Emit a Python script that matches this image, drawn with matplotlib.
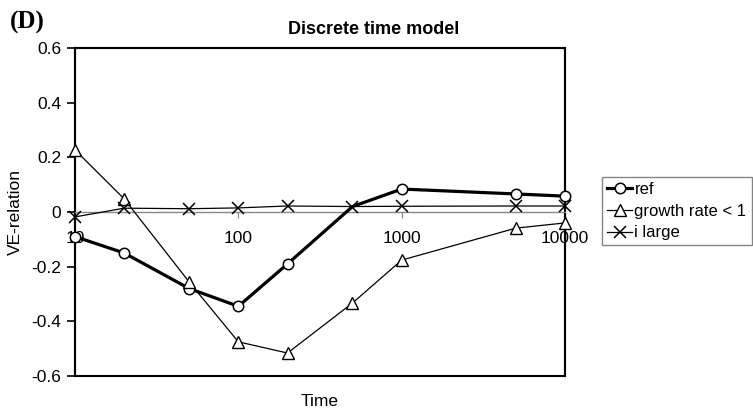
import matplotlib
matplotlib.use("Agg")
import matplotlib.pyplot as plt
from matplotlib.patches import Rectangle
from matplotlib.ticker import FixedLocator, NullLocator

time = [10, 20, 50, 100, 200, 500, 1000, 5000, 10000]
ref = [-0.09, -0.15, -0.28, -0.345, -0.19, 0.02, 0.084, 0.066, 0.058]
growth = [0.227, 0.048, -0.256, -0.475, -0.516, -0.333, -0.176, -0.059, -0.04]
ilarge = [-0.018, 0.014, 0.012, 0.015, 0.022, 0.02, 0.021, 0.022, 0.022]
xticks = [10, 100, 1000, 10000]
xticklabels = ["10", "100", "1000", "10000"]
yticks = [-0.6, -0.4, -0.2, 0, 0.2, 0.4, 0.6]
yticklabels = ["-0.6", "-0.4", "-0.2", "0", "0.2", "0.4", "0.6"]

plt.rcParams['font.family'] = ['Liberation Sans', 'DejaVu Sans']

fig = plt.figure(figsize=(7.53, 4.13), dpi=100)
ax = fig.add_axes([75/753, 1-376/413, 490/753, 328/413])

ax.plot(time, ref, color='black', lw=2.3, marker='o', ms=7.5, mfc='white', mec='black', mew=1.1,
        markevery=[0, 1, 2, 3, 4, 6, 7, 8], label='ref', zorder=3, clip_on=False)
ax.plot(time, growth, color='black', lw=0.9, marker='^', ms=8, mfc='white', mec='black', mew=1.0,
        label='growth rate < 1', zorder=4, clip_on=False)
ax.plot(time, ilarge, color='black', lw=0.9, marker='x', ms=8, mew=1.1,
        label='i large', zorder=5, clip_on=False)

ax.set_xscale('log')
ax.set_xlim(10, 10000)
ax.set_ylim(-0.6, 0.6)

for s in ['top', 'right', 'left']:
    ax.spines[s].set_color('black')
    ax.spines[s].set_linewidth(1.5)
ax.spines['bottom'].set_position(('data', 0))
ax.spines['bottom'].set_color('#888888')
ax.spines['bottom'].set_linewidth(1.0)
ax.add_patch(Rectangle((0, 0), 1, 1, transform=ax.transAxes, fill=False,
                       lw=1.5, ec='black', clip_on=False, zorder=2))

ax.xaxis.set_major_locator(FixedLocator(xticks))
ax.xaxis.set_minor_locator(NullLocator())
ax.set_xticklabels(xticklabels, fontsize=12.5)
ax.tick_params(axis='x', direction='out', length=4, color='#888888', pad=10)

ax.set_yticks(yticks)
ax.set_yticklabels(yticklabels, fontsize=12.5)
ax.tick_params(axis='y', direction='out', length=6, width=1.2, pad=4)

ax.set_xlabel('Time', fontsize=12.5)
ax.xaxis.set_label_coords(0.5, -0.055)
ax.set_ylabel('VE-relation', fontsize=12.5)
ax.yaxis.set_label_coords(-0.107, 0.5)

fig.text(374/753, 1-29/413, 'Discrete time model', fontsize=13, fontweight='bold',
         ha='center', va='center')
fig.text(10/753, 1-22/413, '(D)', fontsize=18, fontweight='bold', family='Liberation Serif',
         ha='left', va='center')

leg = ax.legend(loc='upper left', bbox_to_anchor=(602/753, 1-177/413), bbox_transform=fig.transFigure,
                fontsize=12, frameon=True, fancybox=False, edgecolor='#666666',
                handlelength=1.5, handletextpad=0.15, borderpad=0.3, labelspacing=0.4,
                borderaxespad=0)
leg.get_frame().set_linewidth(1.0)

fig.savefig('out.png', dpi=100)
